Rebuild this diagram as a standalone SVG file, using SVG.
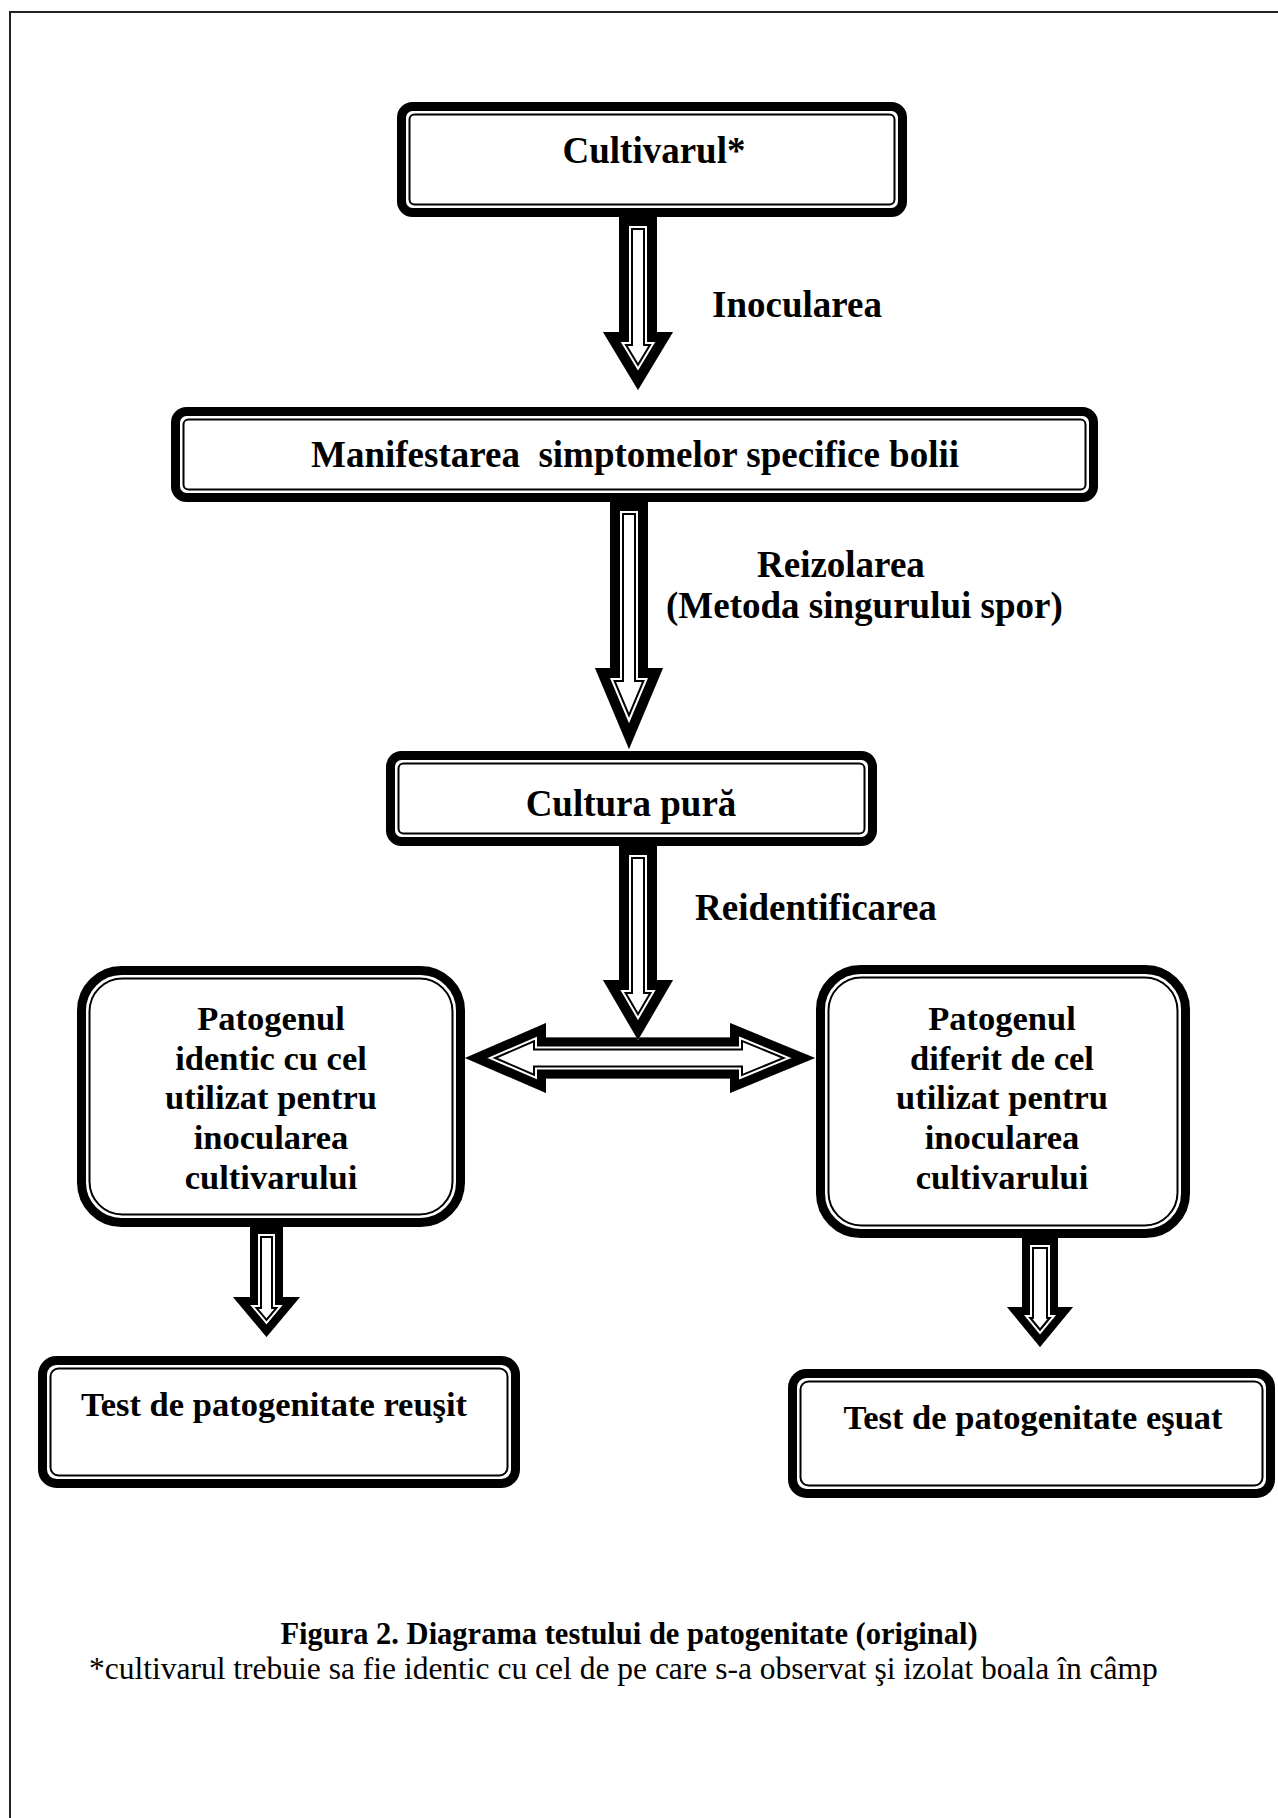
<svg xmlns="http://www.w3.org/2000/svg" xmlns:xlink="http://www.w3.org/1999/xlink" width="1278" height="1818" viewBox="0 0 1278 1818">
<style>
.bg{fill:#fff}
.frame{fill:none;stroke:#222;stroke-width:2}
.bo{fill:#fff;stroke:#000;stroke-width:9}
.bi{fill:none;stroke:#000;stroke-width:2}
.t{font-family:"Liberation Serif","Times New Roman",serif;font-weight:bold;font-size:37px;fill:#000;white-space:pre}
.m{text-anchor:middle}
.t2{font-size:34.5px}
.cap{font-family:"Liberation Serif","Times New Roman",serif;font-size:31.5px;fill:#000}
.capb{font-weight:bold;text-anchor:middle;font-size:30.5px}
.L1{fill:#fff;stroke:#000;stroke-width:28;stroke-linejoin:miter;stroke-miterlimit:10}
.L2{fill:none;stroke:#fff;stroke-width:24;stroke-linejoin:miter;stroke-miterlimit:10}
.L3{fill:none;stroke:#000;stroke-width:20;stroke-linejoin:miter;stroke-miterlimit:10}
.S1{fill:#fff;stroke:#000;stroke-width:24;stroke-linejoin:miter;stroke-miterlimit:10}
.S2{fill:none;stroke:#fff;stroke-width:20;stroke-linejoin:miter;stroke-miterlimit:10}
.S3{fill:none;stroke:#000;stroke-width:16;stroke-linejoin:miter;stroke-miterlimit:10}
.D1{fill:#fff;stroke:#000;stroke-width:26;stroke-linejoin:miter;stroke-miterlimit:10}
.D2{fill:none;stroke:#fff;stroke-width:22;stroke-linejoin:miter;stroke-miterlimit:10}
.D3{fill:none;stroke:#000;stroke-width:18;stroke-linejoin:miter;stroke-miterlimit:10}
</style>
<defs>
<polygon id="a1" points="619,216 657,216 657,332 673,332 638,390 603,332 619,332"/>
<polygon id="a2" points="610,501 648,501 648,668 663,668 629,749 595,668 610,668"/>
<polygon id="a3" points="619,845 657,845 657,980 673,980 638,1040 603,980 619,980"/>
<polygon id="a4" points="250,1226 283,1226 283,1297 300,1297 266.5,1337 233,1297 250,1297"/>
<polygon id="a5" points="1022,1237 1058,1237 1058,1307 1073,1307 1040,1347 1007,1307 1022,1307"/>
<polygon id="a6" points="465,1058 546,1023 546,1037.5 730,1037.5 730,1023 815,1058 730,1093 730,1078.5 546,1078.5 546,1093"/>
<clipPath id="k1"><use xlink:href="#a1"/></clipPath>
<clipPath id="k2"><use xlink:href="#a2"/></clipPath>
<clipPath id="k3"><use xlink:href="#a3"/></clipPath>
<clipPath id="k4"><use xlink:href="#a4"/></clipPath>
<clipPath id="k5"><use xlink:href="#a5"/></clipPath>
<clipPath id="k6"><use xlink:href="#a6"/></clipPath>
</defs>
<rect class="bg" x="0" y="0" width="1278" height="1818"/>
<rect class="frame" x="10" y="12" width="1290" height="1830"/>

<g id="n-cultivarul">
<rect class="bo" x="401.5" y="106.5" width="501" height="106" rx="11"/>
<rect class="bi" x="409.5" y="114.5" width="485" height="90" rx="5"/>
<text class="t m" x="654" y="163">Cultivarul*</text>
</g>

<g id="n-manifestarea">
<rect class="bo" x="175.5" y="411.5" width="918" height="86" rx="11"/>
<rect class="bi" x="183.5" y="419.5" width="902" height="70" rx="5"/>
<text class="t m" x="635" y="467">Manifestarea  simptomelor specifice bolii</text>
</g>

<g id="n-cultura">
<rect class="bo" x="390.5" y="755.5" width="482" height="86" rx="11"/>
<rect class="bi" x="398.5" y="763.5" width="466" height="70" rx="5"/>
<text class="t m" x="631" y="816">Cultura pură</text>
</g>

<g id="n-identic">
<rect class="bo" x="81.5" y="970.5" width="379" height="252" rx="40"/>
<rect class="bi" x="89.5" y="978.5" width="363" height="236" rx="33"/>
<text class="t t2 m" x="271" y="1030">Patogenul</text>
<text class="t t2 m" x="271" y="1070">identic cu cel</text>
<text class="t t2 m" x="271" y="1109">utilizat pentru</text>
<text class="t t2 m" x="271" y="1149">inocularea</text>
<text class="t t2 m" x="271" y="1189">cultivarului</text>
</g>

<g id="n-diferit">
<rect class="bo" x="820.5" y="969.5" width="365" height="264" rx="40"/>
<rect class="bi" x="828.5" y="977.5" width="349" height="248" rx="33"/>
<text class="t t2 m" x="1002" y="1030">Patogenul</text>
<text class="t t2 m" x="1002" y="1070">diferit de cel</text>
<text class="t t2 m" x="1002" y="1109">utilizat pentru</text>
<text class="t t2 m" x="1002" y="1149">inocularea</text>
<text class="t t2 m" x="1002" y="1189">cultivarului</text>
</g>

<g id="n-reusit">
<rect class="bo" x="42.5" y="1360.5" width="473" height="123" rx="14"/>
<rect class="bi" x="50.5" y="1368.5" width="457" height="107" rx="8"/>
<text class="t t2 m" x="274" y="1416">Test de patogenitate reuşit</text>
</g>

<g id="n-esuat">
<rect class="bo" x="792.5" y="1373.5" width="478" height="120" rx="14"/>
<rect class="bi" x="800.5" y="1381.5" width="462" height="104" rx="8"/>
<text class="t t2 m" x="1033" y="1429">Test de patogenitate eşuat</text>
</g>

<g id="connectors">
<g clip-path="url(#k1)"><use xlink:href="#a1" class="L1"/><use xlink:href="#a1" class="L2"/><use xlink:href="#a1" class="L3"/></g>
<g clip-path="url(#k2)"><use xlink:href="#a2" class="L1"/><use xlink:href="#a2" class="L2"/><use xlink:href="#a2" class="L3"/></g>
<g clip-path="url(#k6)"><use xlink:href="#a6" class="D1"/><use xlink:href="#a6" class="D2"/><use xlink:href="#a6" class="D3"/></g>
<g clip-path="url(#k3)"><use xlink:href="#a3" class="L1"/><use xlink:href="#a3" class="L2"/><use xlink:href="#a3" class="L3"/></g>
<g clip-path="url(#k4)"><use xlink:href="#a4" class="S1"/><use xlink:href="#a4" class="S2"/><use xlink:href="#a4" class="S3"/></g>
<g clip-path="url(#k5)"><use xlink:href="#a5" class="S1"/><use xlink:href="#a5" class="S2"/><use xlink:href="#a5" class="S3"/></g>
<text class="t" x="712" y="317">Inocularea</text>
<text class="t" x="757" y="577">Reizolarea</text>
<text class="t" x="666" y="618">(Metoda singurului spor)</text>
<text class="t" x="695" y="920">Reidentificarea</text>
</g>

<g id="caption">
<text class="cap capb" x="629" y="1644">Figura 2. Diagrama testului de patogenitate (original)</text>
<text class="cap" x="89" y="1679">*cultivarul trebuie sa fie identic cu cel de pe care s-a observat şi izolat boala în câmp</text>
</g>
</svg>
